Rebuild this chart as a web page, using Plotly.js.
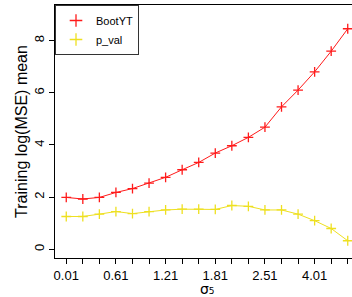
<!DOCTYPE html>
<html>
<head>
<meta charset="utf-8">
<script src="https://cdn.plot.ly/plotly-3.0.1.min.js"></script>
<style>
html,body{margin:0;padding:0;overflow:hidden;background:#fff;width:352px;height:297px;}
#chart{width:362px;height:297px;}
</style>
</head>
<body>
<div id="chart"></div>
<script>
// sigma_5 values (axis prints every 3rd)
var sigma5 = ["0.01","0.21","0.41","0.61","0.81","1.01","1.21","1.41","1.61","1.81","2.01","2.21","2.51","3.01","3.51","4.01","4.51","5.01"];
var bootYT = [1.99,1.93,1.99,2.18,2.33,2.54,2.76,3.05,3.33,3.69,3.97,4.29,4.68,5.46,6.10,6.80,7.59,8.45];
var pVal   = [1.26,1.26,1.35,1.45,1.37,1.45,1.51,1.54,1.54,1.53,1.68,1.65,1.51,1.51,1.35,1.10,0.80,0.33];
var yTicks = [0,2,4,6,8];

var xIdx = sigma5.map(function(s,i){ return i; });
var labIdx = xIdx.filter(function(i){ return i%3===0; });
var labText = labIdx.map(function(i){ return sigma5[i]; });
var font = "Liberation Sans, Arial, Helvetica, sans-serif";
var red = "#FF1A1A", yel = "#EEE020";

var traces = [
  {x: xIdx, y: bootYT, name: "BootYT", type: "scatter", mode: "lines+markers", showlegend: false,
   line: {color: red, width: 1},
   marker: {symbol: "cross-thin", size: 7, line: {color: red, width: 1.3}}},
  {x: xIdx, y: pVal, name: "p_val", type: "scatter", mode: "lines+markers", showlegend: false,
   line: {color: yel, width: 1},
   marker: {symbol: "cross-thin", size: 7, line: {color: yel, width: 1.3}}},
  {x: [null], y: [null], name: "BootYT", type: "scatter", mode: "markers",
   marker: {symbol: "cross-thin", size: 9, line: {color: red, width: 1.3}}},
  {x: [null], y: [null], name: "p_val", type: "scatter", mode: "markers",
   marker: {symbol: "cross-thin", size: 9, line: {color: yel, width: 1.3}}}
];

var layout = {
  width: 362, height: 297,
  margin: {l: 55, r: 3, t: 5, b: 39},
  paper_bgcolor: "#fff", plot_bgcolor: "#fff",
  font: {family: font, color: "#000", size: 13},
  showlegend: true,
  legend: {x: 0, y: 1, xanchor: "left", yanchor: "top",
           bgcolor: "#fff", bordercolor: "#333", borderwidth: 1,
           font: {family: font, size: 11, color: "#000"},
           itemwidth: 30, tracegroupgap: 0},
  xaxis: {range: [-0.68, 17.68],
          tickmode: "array", tickvals: labIdx, ticktext: labText,
          ticks: "outside", ticklen: 5, tickcolor: "#000", tickwidth: 1,
          minor: {dtick: 1, tick0: 0, ticks: "outside", ticklen: 5, tickcolor: "#000", tickwidth: 1, showgrid: false},
          showline: true, linecolor: "#000", linewidth: 1, mirror: true,
          showgrid: false, zeroline: false,
          tickfont: {family: font, size: 13, color: "#000"}},
  yaxis: {range: [-0.33, 9.36],
          tickmode: "array", tickvals: yTicks, ticktext: yTicks.map(String),
          tickangle: -90,
          ticks: "outside", ticklen: 5, tickcolor: "#000", tickwidth: 1,
          showline: true, linecolor: "#000", linewidth: 1,
          showgrid: false, zeroline: false,
          tickfont: {family: font, size: 13, color: "#000"},
          title: {text: "Training log(MSE) mean", font: {family: font, size: 16, color: "#000"}, standoff: 0}},
  annotations: [
    {text: "σ₅", xref: "paper", yref: "paper", x: 0.5, y: -0.121,
     xanchor: "center", yanchor: "middle", showarrow: false, borderpad: 0,
     font: {family: "DejaVu Sans, Liberation Sans, sans-serif", size: 14, color: "#000"}}
  ]
};

Plotly.newPlot("chart", traces, layout, {displayModeBar: false, staticPlot: true});
</script>
</body>
</html>
